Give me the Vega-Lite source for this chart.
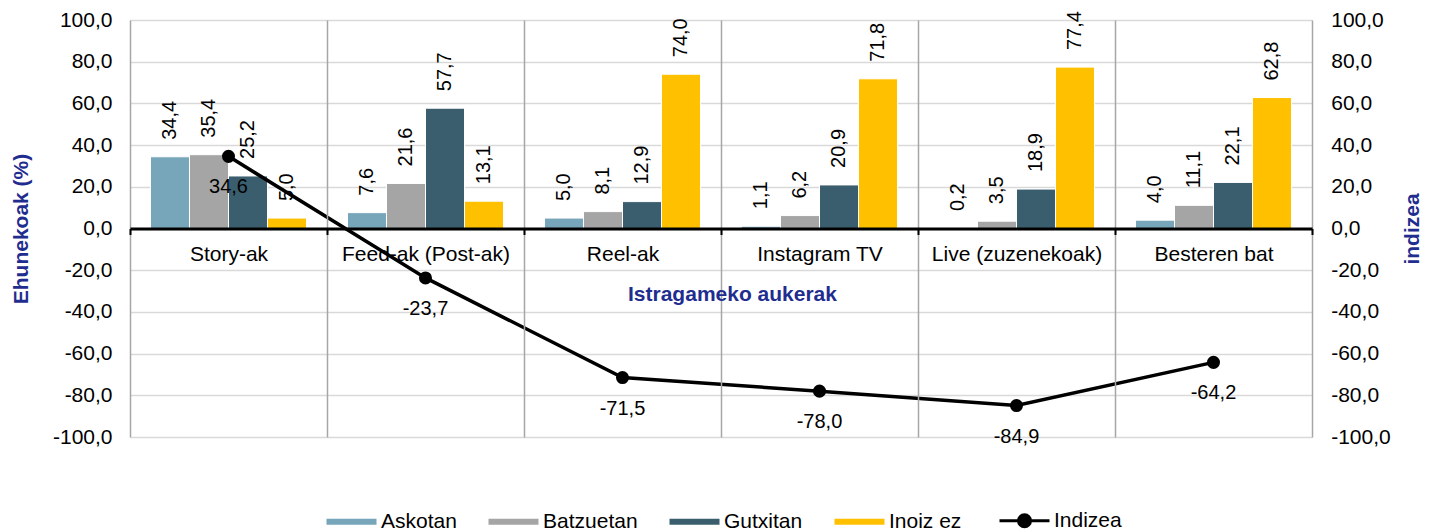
{
  "$schema": "https://vega.github.io/schema/vega-lite/v6.json",
  "width": 1182,
  "height": 417,
  "autosize": {"type": "none"},
  "padding": {"left": 130, "top": 20, "right": 126, "bottom": 95},
  "background": "white",
  "datasets": {
    "bars": [
      {"cat": "Story-ak", "serie": "Askotan", "value": 34.4},
      {"cat": "Story-ak", "serie": "Batzuetan", "value": 35.4},
      {"cat": "Story-ak", "serie": "Gutxitan", "value": 25.2},
      {"cat": "Story-ak", "serie": "Inoiz ez", "value": 5.0},
      {"cat": "Feed-ak (Post-ak)", "serie": "Askotan", "value": 7.6},
      {"cat": "Feed-ak (Post-ak)", "serie": "Batzuetan", "value": 21.6},
      {"cat": "Feed-ak (Post-ak)", "serie": "Gutxitan", "value": 57.7},
      {"cat": "Feed-ak (Post-ak)", "serie": "Inoiz ez", "value": 13.1},
      {"cat": "Reel-ak", "serie": "Askotan", "value": 5.0},
      {"cat": "Reel-ak", "serie": "Batzuetan", "value": 8.1},
      {"cat": "Reel-ak", "serie": "Gutxitan", "value": 12.9},
      {"cat": "Reel-ak", "serie": "Inoiz ez", "value": 74.0},
      {"cat": "Instagram TV", "serie": "Askotan", "value": 1.1},
      {"cat": "Instagram TV", "serie": "Batzuetan", "value": 6.2},
      {"cat": "Instagram TV", "serie": "Gutxitan", "value": 20.9},
      {"cat": "Instagram TV", "serie": "Inoiz ez", "value": 71.8},
      {"cat": "Live (zuzenekoak)", "serie": "Askotan", "value": 0.2},
      {"cat": "Live (zuzenekoak)", "serie": "Batzuetan", "value": 3.5},
      {"cat": "Live (zuzenekoak)", "serie": "Gutxitan", "value": 18.9},
      {"cat": "Live (zuzenekoak)", "serie": "Inoiz ez", "value": 77.4},
      {"cat": "Besteren bat", "serie": "Askotan", "value": 4.0},
      {"cat": "Besteren bat", "serie": "Batzuetan", "value": 11.1},
      {"cat": "Besteren bat", "serie": "Gutxitan", "value": 22.1},
      {"cat": "Besteren bat", "serie": "Inoiz ez", "value": 62.8}
    ],
    "idx": [
      {"cat": "Story-ak", "indizea": 34.6},
      {"cat": "Feed-ak (Post-ak)", "indizea": -23.7},
      {"cat": "Reel-ak", "indizea": -71.5},
      {"cat": "Instagram TV", "indizea": -78.0},
      {"cat": "Live (zuzenekoak)", "indizea": -84.9},
      {"cat": "Besteren bat", "indizea": -64.2}
    ]
  },
  "encoding": {
    "x": {
      "field": "cat",
      "type": "nominal",
      "sort": ["Story-ak", "Feed-ak (Post-ak)", "Reel-ak", "Instagram TV", "Live (zuzenekoak)", "Besteren bat"],
      "scale": {"paddingInner": 0, "paddingOuter": 0},
      "axis": {
        "orient": "bottom",
        "offset": -208.5,
        "title": "Istragameko aukerak",
        "titleX": 602,
        "titleY": 66,
        "titleAlign": "center",
        "titleBaseline": "middle",
        "labelAngle": 0,
        "labelPadding": 9,
        "tickBand": "extent",
        "tickSize": 6,
        "tickWidth": 2,
        "tickColor": "#000000",
        "domainColor": "#000000",
        "domainWidth": 3,
        "grid": true,
        "gridColor": "#A6A6A6",
        "gridWidth": 1.5,
        "zindex": 1
      }
    }
  },
  "layer": [
    {
      "data": {"name": "bars"},
      "encoding": {
        "xOffset": {
          "field": "serie",
          "type": "nominal",
          "sort": ["Askotan", "Batzuetan", "Gutxitan", "Inoiz ez"],
          "scale": {"paddingInner": 0, "paddingOuter": 0.525}
        },
        "y": {
          "field": "value",
          "type": "quantitative",
          "scale": {"domain": [-100, 100], "nice": false},
          "axis": {
            "orient": "left",
            "values": [-100, -80, -60, -40, -20, 0, 20, 40, 60, 80, 100],
            "format": ".1f",
            "grid": true,
            "gridColor": "#D9D9D9",
            "gridWidth": 1.5,
            "domain": false,
            "ticks": false,
            "labelPadding": 18,
            "title": "Ehunekoak (%)",
            "titleAngle": -90,
            "titleX": -109,
            "titleY": 208.5,
            "titleAlign": "center",
            "titleBaseline": "middle"
          }
        }
      },
      "layer": [
        {
          "mark": {"type": "bar", "stroke": "white", "strokeWidth": 1},
          "encoding": {
            "color": {
              "field": "serie",
              "type": "nominal",
              "scale": {
                "domain": ["Askotan", "Batzuetan", "Gutxitan", "Inoiz ez", "Indizea"],
                "range": ["#77A5BA", "#A5A5A5", "#3B5E6E", "#FFC000", "#000000"]
              },
              "legend": {
                "orient": "none",
                "direction": "horizontal",
                "legendX": 211,
                "legendY": 490,
                "title": null,
                "padding": 0,
                "labelFont": "Liberation Sans",
                "labelFontSize": 21,
                "labelColor": "#000000",
                "labelOffset": 19,
                "columnPadding": 31,
                "symbolSize": 2500,
                "symbolStrokeWidth": 0,
                "encoding": {
                  "symbols": {
                    "shape": {"value": {"expr": "datum.value === 'Indizea' ? 'M-1,0H1M-0.24,0A0.24,0.24,0,1,0,0.24,0A0.24,0.24,0,1,0,-0.24,0Z' : 'M-1,-0.12H1V0.12H-1Z'"}},
                    "stroke": {"value": "#000000"},
                    "strokeWidth": {"value": {"expr": "datum.value === 'Indizea' ? 3 : 0"}},
                    "opacity": {"value": 1},
                    "fillOpacity": {"value": 1}
                  }
                }
              }
            }
          }
        },
        {
          "mark": {"type": "text", "angle": -90, "align": "left", "baseline": "middle", "dx": 17, "fontSize": 20, "font": "Liberation Sans", "color": "#000000"},
          "encoding": {
            "text": {"field": "value", "type": "quantitative", "format": ".1f"}
          }
        }
      ]
    },
    {
      "data": {"name": "idx"},
      "encoding": {
        "y": {
          "field": "indizea",
          "type": "quantitative",
          "scale": {"domain": [-100, 100], "nice": false},
          "axis": {
            "orient": "right",
            "values": [-100, -80, -60, -40, -20, 0, 20, 40, 60, 80, 100],
            "format": ".1f",
            "grid": false,
            "domain": false,
            "ticks": false,
            "labelPadding": 18.7,
            "title": "indizea",
            "titleAngle": -90,
            "titleX": 100,
            "titleY": 208.5,
            "titleAlign": "center",
            "titleBaseline": "middle"
          }
        }
      },
      "layer": [
        {
          "mark": {"type": "line", "strokeWidth": 3.5, "color": "#000000"}
        },
        {
          "mark": {"type": "point", "filled": true, "size": 170, "opacity": 1, "color": "#000000"}
        },
        {
          "mark": {"type": "text", "baseline": "middle", "dy": 31, "fontSize": 20, "font": "Liberation Sans", "color": "#000000"},
          "encoding": {
            "text": {"field": "indizea", "type": "quantitative", "format": ".1f"}
          }
        }
      ]
    }
  ],
  "resolve": {"scale": {"y": "independent"}},
  "config": {
    "locale": {"number": {"decimal": ",", "thousands": ".", "grouping": [3], "currency": ["", " €"], "minus": "-"}},
    "font": "Liberation Sans",
    "view": {"stroke": null},
    "axis": {
      "labelFont": "Liberation Sans",
      "labelFontSize": 21,
      "labelColor": "#000000",
      "titleFont": "Liberation Sans",
      "titleFontSize": 21,
      "titleColor": "#1F2D8F",
      "titleFontWeight": "bold"
    }
  }
}
